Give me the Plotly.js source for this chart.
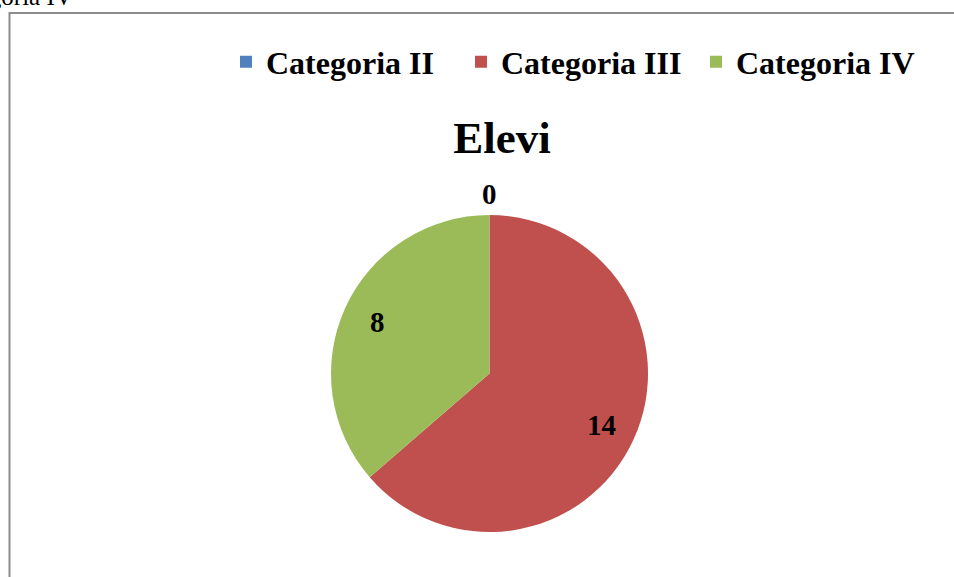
<!DOCTYPE html>
<html>
<head>
<meta charset="utf-8">
<script src="https://cdn.plot.ly/plotly-3.0.1.min.js"></script>
<style>
  html, body { margin: 0; padding: 0; background: #ffffff; overflow: hidden; }
  #chart { width: 954px; height: 577px; }
</style>
</head>
<body>
<div id="chart"></div>
<script>
const categories = ['Categoria II', 'Categoria III', 'Categoria IV'];
const values = [0, 14, 8];
const colors = ['#4F81BD', '#C0504D', '#9BBB59'];
const chartTitle = 'Elevi';
const cutText = 'Categoria IV';

const W = 954, H = 577;
const px = x => x / W;
const py = y => 1 - y / H;

const serif = '"Liberation Serif", "Times New Roman", serif';

const domain = { x: [px(331), px(648)], y: [py(532), py(215)] };

const trace = {
  type: 'pie',
  labels: categories,
  values: values,
  sort: false,
  direction: 'clockwise',
  rotation: 0,
  marker: { colors: colors, line: { width: 0 } },
  textinfo: 'none',
  domain: domain,
  hoverinfo: 'label+value',
  showlegend: true
};

// Data labels placed at each slice's mid-angle (derived from the values)
const total = values.reduce((a, b) => a + b, 0);
const cxP = (domain.x[0] + domain.x[1]) / 2 * W;
const cyP = (1 - (domain.y[0] + domain.y[1]) / 2) * H;
const R = Math.min((domain.x[1] - domain.x[0]) * W, (domain.y[1] - domain.y[0]) * H) / 2;
const labelAnnotations = [];
let cum = 0;
values.forEach((v, i) => {
  const mid = (cum + v / 2) / total * 2 * Math.PI;
  cum += v;
  const f = v === 0 ? 1.13 : 0.78;
  const lx = cxP + f * R * Math.sin(mid);
  const ly = cyP - f * R * Math.cos(mid);
  labelAnnotations.push({
    text: '<b>' + v + '</b>',
    xref: 'paper', yref: 'paper',
    x: lx / W, y: 1 - ly / H,
    xanchor: 'center', yanchor: 'middle',
    showarrow: false,
    font: { family: serif, size: 29, color: '#000000' }
  });
});

const layout = {
  width: W,
  height: H,
  margin: { l: 0, r: 0, t: 0, b: 0 },
  paper_bgcolor: '#ffffff',
  plot_bgcolor: '#ffffff',
  title: {
    text: '<b>' + chartTitle + '</b>',
    font: { family: serif, size: 45, color: '#000000' },
    x: px(502), xanchor: 'center',
    y: py(137), yanchor: 'middle', yref: 'container'
  },
  legend: {
    orientation: 'h',
    x: px(226), xanchor: 'left',
    y: py(62), yanchor: 'middle',
    font: { family: serif, size: 32, color: '#000000', weight: 'bold' },
    entrywidth: 190,
    traceorder: 'normal',
    bgcolor: 'rgba(0,0,0,0)'
  },
  shapes: [{
    type: 'rect', xref: 'paper', yref: 'paper',
    x0: px(9.5), x1: px(970), y0: py(13), y1: py(600),
    line: { color: '#8c8c8c', width: 2 },
    fillcolor: 'rgba(0,0,0,0)',
    layer: 'below'
  }],
  annotations: labelAnnotations.concat([{
    text: cutText,
    xref: 'paper', yref: 'paper',
    x: px(75), xanchor: 'right',
    y: py(12), yanchor: 'bottom',
    showarrow: false,
    font: { family: serif, size: 25, color: '#000000' }
  }])
};

Plotly.newPlot('chart', [trace], layout, { displayModeBar: false, staticPlot: true });
</script>
</body>
</html>
